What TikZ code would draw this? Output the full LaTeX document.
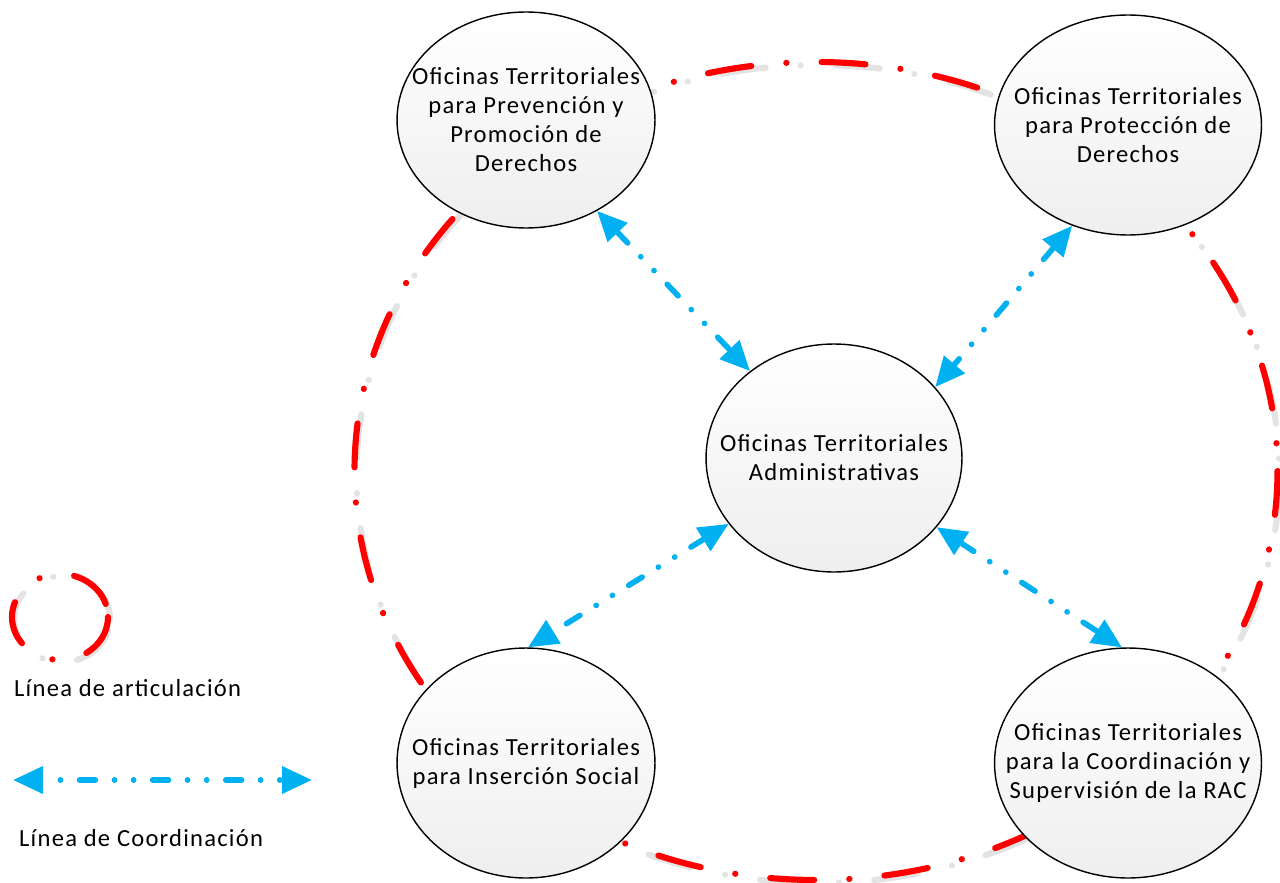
\documentclass[tikz,border=0pt]{standalone}
\usepackage{fontspec}
\setmainfont{Carlito}[LetterSpace=5]
\usepackage{xcolor}
\usetikzlibrary{arrows.meta,shapes.geometric,calc}
\definecolor{rojoArt}{HTML}{FF0000}
\definecolor{azulCoord}{HTML}{00B0F0}

\begin{document}
\begin{tikzpicture}[
        x=0.02cm, y=-0.02cm, % 1 单位 = 1 像素
        oficina/.style={ellipse, draw=black, line width=0.8pt,
            top color=white, bottom color=gray!13, inner sep=0pt},
        texto/.style={align=center, font=\fontsize{14}{16.5}\selectfont},
        articulacion/.style={draw=rojoArt, line width=3.5pt, line cap=round,
            dash pattern=on 25pt off 20pt on 0.1pt off 20pt},
        sombra/.style={draw=gray!22, line width=3.5pt, line cap=round,
            dash pattern=on 25pt off 20pt on 0.1pt off 20pt, dash phase=-7pt},
        coordinacion/.style={draw=azulCoord, line width=3.2pt, line cap=round,
            dash pattern=on 9pt off 10.8pt on 0.1pt off 10.8pt on 0.1pt off 10.8pt,
            {Triangle[length=17pt,width=15pt]}-{Triangle[length=17pt,width=15pt]}},
    ]
    \useasboundingbox (0,0) rectangle (1280,882);
    % 大椭圆：衔接线
    \draw[sombra] (818,474) ellipse [x radius=461.5, y radius=409];
    \draw[articulacion] (816,471) ellipse [x radius=461.5, y radius=409];

    % 各办公室
    \node[oficina, minimum width=5.16cm, minimum height=4.32cm,
        label={[texto]center:{Oficinas Territoriales\\para Prevención y\\Promoción de\\Derechos}}]
        (prevencion) at (526,120) {};
    \node[oficina, minimum width=5.34cm, minimum height=4.4cm,
        label={[texto]center:{Oficinas Territoriales\\para Protección de\\Derechos}}]
        (proteccion) at (1128,125) {};
    \node[oficina, minimum width=5.12cm, minimum height=4.56cm,
        label={[texto]center:{Oficinas Territoriales\\Administrativas}}]
        (admin) at (834,458) {};
    \node[oficina, minimum width=5.16cm, minimum height=4.6cm,
        label={[texto]center:{Oficinas Territoriales\\para Inserción Social}}]
        (insercion) at (526,763) {};
    \node[oficina, minimum width=5.34cm, minimum height=4.6cm,
        label={[texto]center:{Oficinas Territoriales\\para la Coordinación y\\Supervisión de la RAC}}]
        (coordinacion) at (1128,763) {};

    % 协调线
    \draw[coordinacion] (prevencion.308) -- (admin.134);
    \draw[coordinacion] (proteccion.241) -- (admin.35);
    \draw[coordinacion] (admin.212) -- (insercion.89.5);
    \draw[coordinacion] (admin.326) -- (coordinacion.93);

    % 图例
    \draw[sombra] (62,619) ellipse [x radius=48, y radius=43];
    \draw[articulacion] (60,617) ellipse [x radius=48, y radius=43];
    \node[texto, anchor=west] (txtArt) at (8,688) {Línea de articulación};
    \coordinate (flechaIzq) at (13,780);
    \coordinate (flechaDer) at (312,780);
    \draw[coordinacion, dash phase=19.9pt] (flechaIzq) -- (flechaDer);
    \node[texto, anchor=west] (txtCoord) at (13,838) {Línea de Coordinación};
\end{tikzpicture}
\end{document}
